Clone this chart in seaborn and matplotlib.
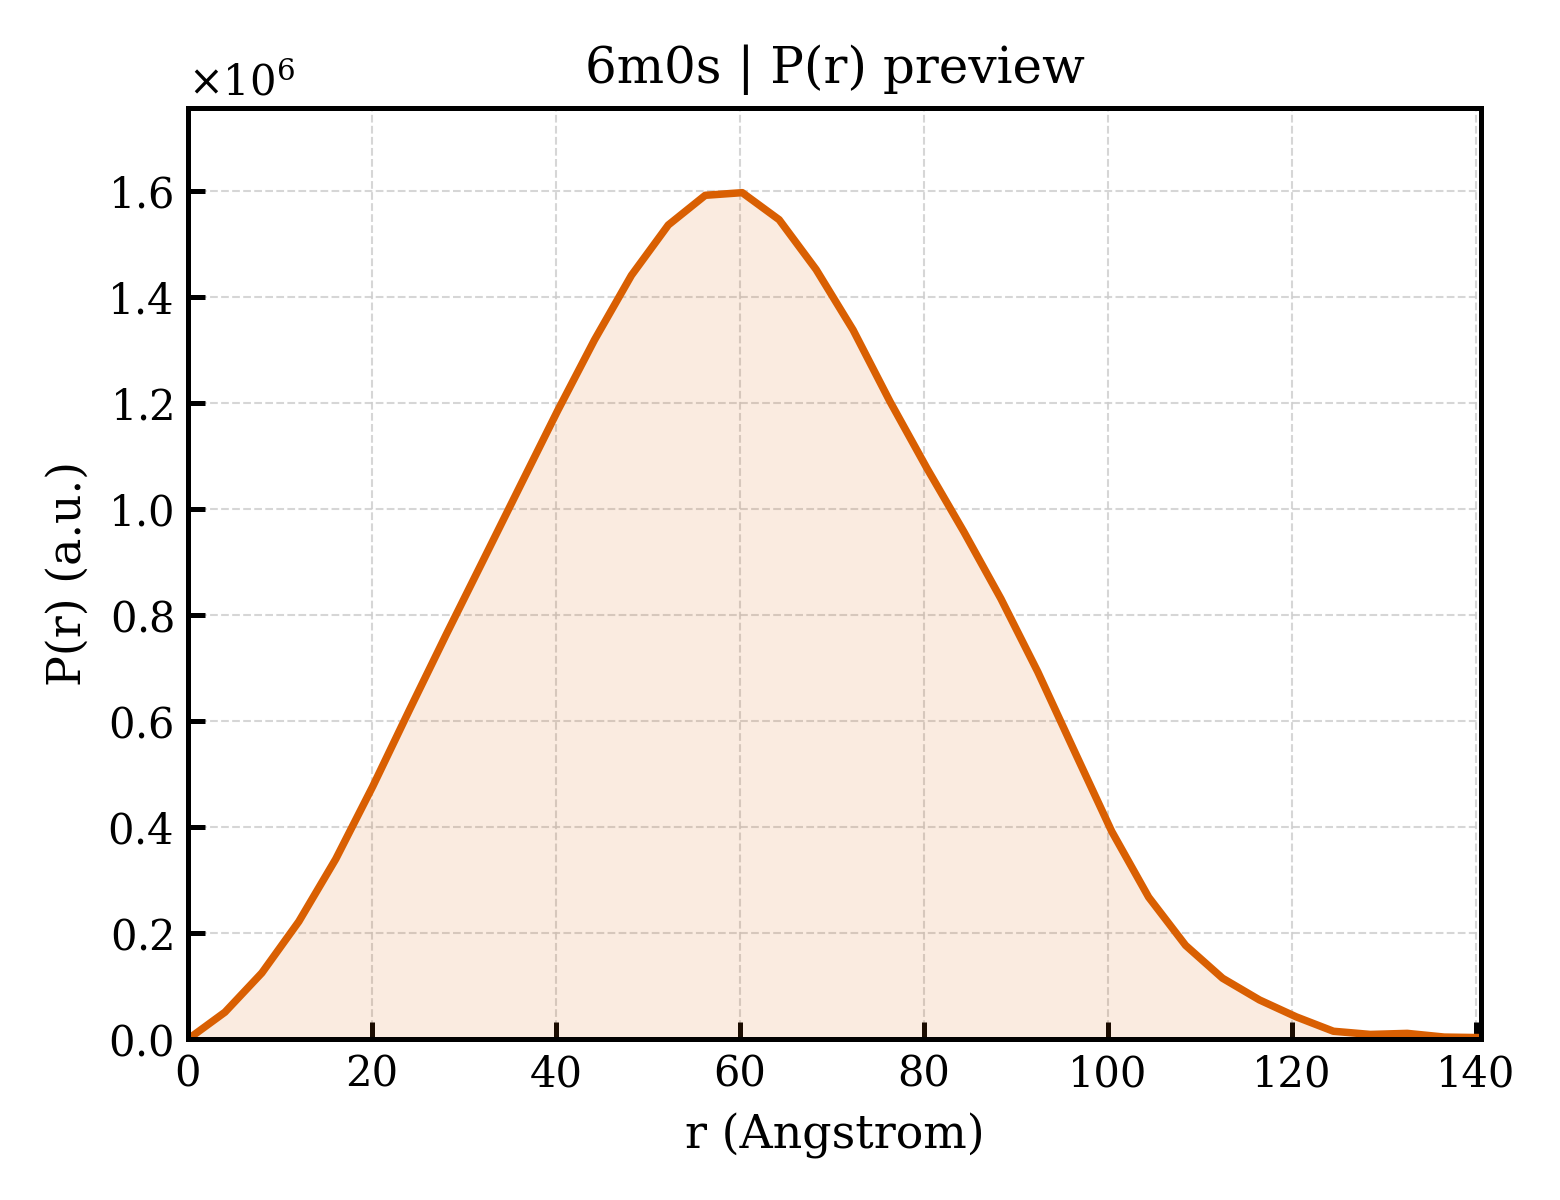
import numpy as np
import pandas as pd
import matplotlib
matplotlib.use("Agg")
import matplotlib.pyplot as plt
import seaborn as sns
from matplotlib.ticker import ScalarFormatter

r_values = [0.0, 4.02, 8.03, 12.05, 16.07, 20.09, 24.10, 28.12, 32.14, 36.15,
            40.17, 44.19, 48.21, 52.22, 56.24, 60.26, 64.27, 68.29, 72.31, 76.32,
            80.34, 84.36, 88.38, 92.39, 96.41, 100.43, 104.44, 108.46, 112.48, 116.50,
            120.51, 124.53, 128.55, 132.56, 136.58, 140.60]
pr_values = [0.0, 0.051, 0.125, 0.222, 0.340, 0.477, 0.622, 0.765, 0.905, 1.045,
             1.185, 1.319, 1.441, 1.536, 1.592, 1.597, 1.546, 1.452, 1.338, 1.203,
             1.077, 0.957, 0.831, 0.693, 0.542, 0.392, 0.268, 0.177, 0.115, 0.074,
             0.042, 0.015, 0.009, 0.011, 0.004, 0.003]
pr_values = [v * 1e6 for v in pr_values]

title = "6m0s | P(r) preview"
xlabel = "r (Angstrom)"
ylabel = "P(r) (a.u.)"

sns.set_theme(style="ticks")
plt.rcParams["font.family"] = ["DejaVu Serif"]
plt.rcParams["mathtext.fontset"] = "dejavuserif"
plt.rcParams["text.color"] = "black"
plt.rcParams["axes.labelcolor"] = "black"
plt.rcParams["xtick.color"] = "black"
plt.rcParams["ytick.color"] = "black"

df = pd.DataFrame({"r": r_values, "P": pr_values})

fig = plt.figure(figsize=(5.2, 4.0), dpi=300)
ax = fig.add_axes([0.1205, 0.134, 0.829, 0.776])

color = "#D95F02"
ax.fill_between(df["r"], df["P"], 0, color=color, alpha=0.12, linewidth=0)
sns.lineplot(data=df, x="r", y="P", ax=ax, color=color, linewidth=1.8)

ax.set_xlim(0, r_values[-1])
ax.set_ylim(0, max(pr_values) * 1.1)

fmt = ScalarFormatter(useMathText=True)
fmt.set_powerlimits((0, 0))
ax.yaxis.set_major_formatter(fmt)

ax.grid(True, linestyle="--", linewidth=0.5, color="#cccccc", alpha=0.8)
ax.set_axisbelow(True)
for s in ax.spines.values():
    s.set_linewidth(1.2)
    s.set_color("black")
ax.tick_params(direction="in", length=4, width=1.2, labelsize=10, colors="black")
ax.yaxis.get_offset_text().set_fontsize(10)
ax.yaxis.get_offset_text().set_color("black")

ax.set_title(title, fontsize=12, color="black")
ax.set_xlabel(xlabel, fontsize=11, color="black")
ax.set_ylabel(ylabel, fontsize=11, color="black")

fig.savefig("out.png", dpi=300)
